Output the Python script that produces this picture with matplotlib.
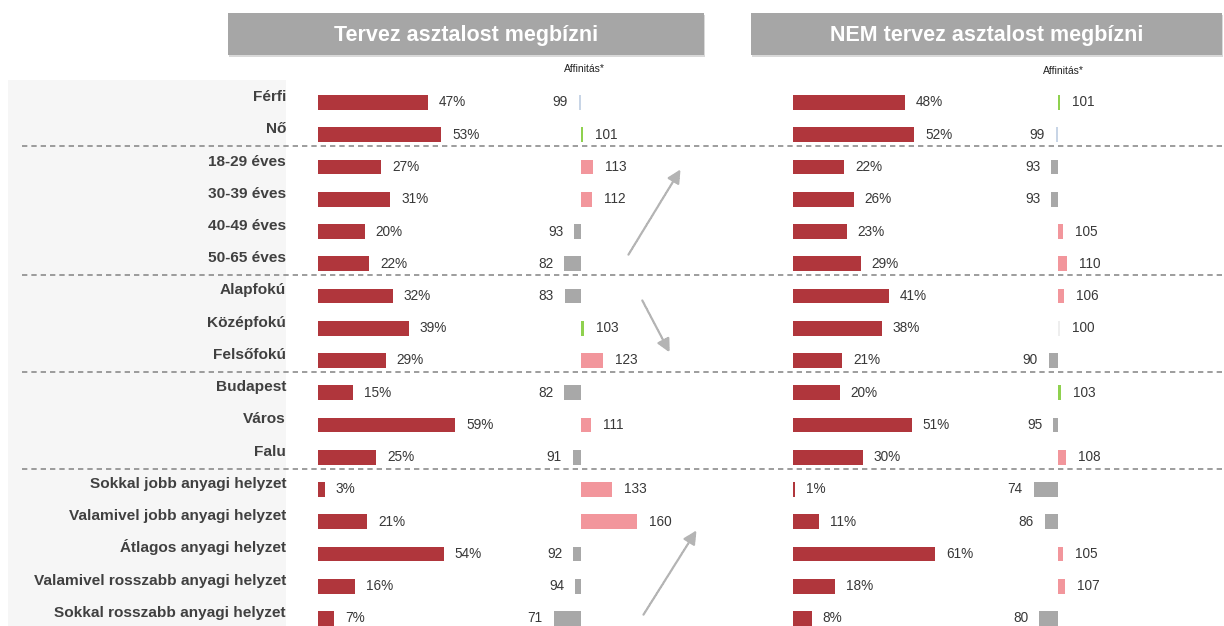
import numpy as np
import matplotlib
matplotlib.use('Agg')
import matplotlib.pyplot as plt
from matplotlib.patches import Rectangle, FancyArrowPatch

plt.rcParams['font.family'] = ['Liberation Sans', 'DejaVu Sans']

# Data
labels = ['Férfi', 'Nő', '18-29 éves', '30-39 éves', '40-49 éves', '50-65 éves',
          'Alapfokú', 'Középfokú', 'Felsőfokú', 'Budapest', 'Város', 'Falu',
          'Sokkal jobb anyagi helyzet', 'Valamivel jobb anyagi helyzet',
          'Átlagos anyagi helyzet', 'Valamivel rosszabb anyagi helyzet',
          'Sokkal rosszabb anyagi helyzet']
group_ends = [1, 5, 8, 11]   # last row of each group before a dashed line

plan_pct = [47, 53, 27, 31, 20, 22, 32, 39, 29, 15, 59, 25, 3, 21, 54, 16, 7]
plan_aff = [99, 101, 113, 112, 93, 82, 83, 103, 123, 82, 111, 91, 133, 160, 92, 94, 71]
noplan_pct = [48, 52, 22, 26, 23, 29, 41, 38, 21, 20, 51, 30, 1, 11, 61, 18, 8]
noplan_aff = [101, 99, 93, 93, 105, 110, 106, 100, 90, 103, 95, 108, 74, 86, 105, 107, 80]

titles = ['Tervez asztalost megbízni', 'NEM tervez asztalost megbízni']

# Layout (pixels)
W, H = 1224, 626
ROW0, ROWSTEP = 102.5, 32.25
PCT_SCALE = 2.33      # px per percent
AFF_SCALE = 0.94      # px per affinity point
RED = '#b0363c'
TXT = '#404040'
PT = 0.72             # points per pixel at dpi 100

fig = plt.figure(figsize=(W / 100, H / 100), dpi=100)


def px_axes(x0, x1, y0, y1):
    ax = fig.add_axes([x0 / W, 1 - y1 / H, (x1 - x0) / W, (y1 - y0) / H])
    ax.set_facecolor('none')
    ax.axis('off')
    return ax


def row_px(r):
    return ROW0 + r * ROWSTEP


def aff_color(v):
    if v >= 104:
        return '#f2969c'
    if v <= 97:
        return '#a8a8a8'
    if v > 100:
        return '#8fd14f'
    if v == 100:
        return '#eeeeee'
    return '#c8d5e6'


# background / decoration axes in pixel coords
bg = px_axes(0, W, 0, H)
bg.set_xlim(0, W)
bg.set_ylim(H, 0)
bg.add_patch(Rectangle((8, 80), 278, H - 80, color='#f6f6f6', lw=0, zorder=0))
for (x0, x1), t in zip([(228, 704), (751, 1222)], titles):
    bg.add_patch(Rectangle((x0 + 1, 15), x1 - x0, 42, color='#d9d9d9', lw=0))
    bg.add_patch(Rectangle((x0, 13), x1 - x0, 42, color='#a6a6a6', lw=0))
    bg.text((x0 + x1) / 2, 35, t, ha='center', va='center', color='white',
            fontsize=15.5, fontweight='bold')
bg.text(584, 69, 'Affinitás*', ha='center', va='center', fontsize=7.5, color='#222222')
bg.text(1063, 71, 'Affinitás*', ha='center', va='center', fontsize=7.5, color='#222222')
for g in group_ends:
    y = row_px(g + 0.5 - 0.14)
    bg.plot([22, W], [y, y], color='#8c8c8c', lw=1.2, dashes=(3.2, 2.4), zorder=1)

for (xa, ya), (xb, yb) in [((627, 257), (682, 167)), ((641, 298), (671, 355)),
                           ((642, 617), (698, 528))]:
    bg.add_patch(FancyArrowPatch((xa, ya), (xb, yb), arrowstyle='-|>',
                                 mutation_scale=20, color='#b4b4b4', lw=1.6,
                                 linestyle=(0, (1, 0.5)), zorder=2))

ylim = ((H - ROW0) / ROWSTEP, (80 - ROW0) / ROWSTEP)
rows = np.arange(len(labels))


def pct_panel(x0, vals, with_labels):
    ax = px_axes(x0, x0 + 200, 80, H)
    ax.set_ylim(*ylim)
    ax.set_xlim(0, 200 / PCT_SCALE)
    ax.barh(rows, vals, height=0.46, color=RED)
    for r, v in zip(rows, vals):
        ax.annotate(f'{v}%', (v, r), xytext=(11 * PT, 0), textcoords='offset points',
                    ha='left', va='center', fontsize=9.8, color='#383838')
        if with_labels:
            ax.annotate(labels[r], (0, r), xytext=(-32 * PT, 1.5 * PT),
                        textcoords='offset points', ha='right', va='baseline',
                        fontsize=11.1, fontweight='bold', color=TXT, annotation_clip=False)


def aff_panel(center, vals):
    left, right = center - 60, center + 100
    ax = px_axes(left, right, 80, H)
    ax.set_ylim(*ylim)
    ax.set_xlim(100 - 60 / AFF_SCALE, 100 + 100 / AFF_SCALE)
    widths = [v - 100 if abs(v - 100) >= 2.5 else 2.5 * (1 if v >= 100 else -1) for v in vals]
    ax.barh(rows, widths, left=100, height=0.46, color=[aff_color(v) for v in vals])
    for r, v, w in zip(rows, vals, widths):
        end = 100 + w
        if v >= 100:
            ax.annotate(str(v), (end, r), xytext=(12 * PT, 0), textcoords='offset points',
                        ha='left', va='center', fontsize=9.8, color='#383838')
        else:
            ax.annotate(str(v), (end, r), xytext=(-11 * PT, 0), textcoords='offset points',
                        ha='right', va='center', fontsize=9.8, color='#383838')


pct_panel(318, plan_pct, True)
aff_panel(581, plan_aff)
pct_panel(793, noplan_pct, False)
aff_panel(1058, noplan_aff)

fig.savefig('out.png', dpi=100)
